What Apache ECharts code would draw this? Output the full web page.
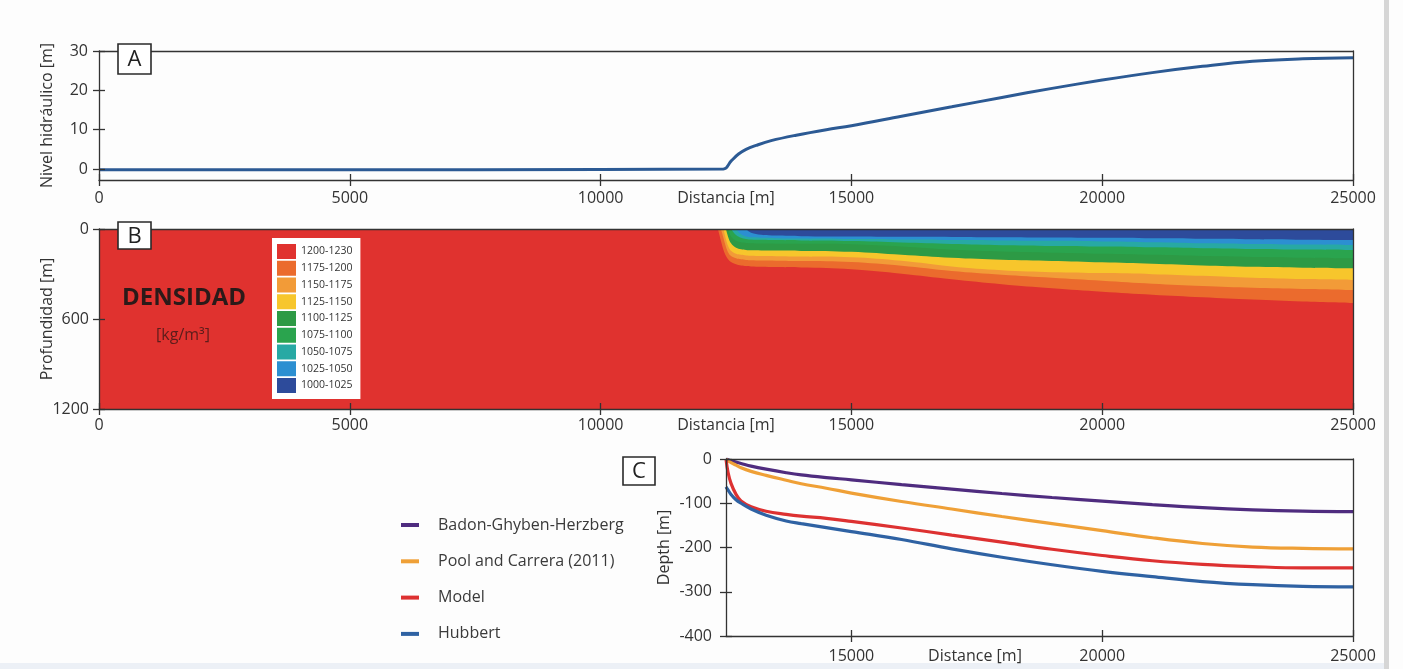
<!DOCTYPE html>
<html><head><meta charset="utf-8">
<script src="https://cdn.jsdelivr.net/npm/echarts@6/dist/echarts.min.js"></script>
<style>html,body{margin:0;padding:0;background:#fdfdfd;}#c{width:1403px;height:669px;}</style>
</head><body><div id="c"></div>
<script>
// ---------- Panel A: hydraulic head ----------
const aX    = [0, 5000, 10000, 12450, 12600, 12750, 12900, 13100, 13400, 13900, 14500, 15000, 16000, 17000, 18000, 19000, 20000, 21000, 22000, 23000, 24000, 25000];
const aHead = [-0.2, -0.2, -0.1, 0, 2.0, 3.8, 5.0, 6.0, 7.2, 8.6, 10.0, 11.0, 13.4, 15.8, 18.2, 20.5, 22.6, 24.5, 26.1, 27.4, 28.0, 28.3];
const aXTicks = [0, 5000, 10000, 15000, 20000, 25000];
const aYTicks = [0, 10, 20, 30];

// ---------- Panel B: density bands (bottom depth of each band, m) ----------
const bX      = [12340, 12400, 12450, 12500, 12550, 12600, 12700, 12800, 12900, 13000, 13200, 13500, 14000, 15000, 16000, 17000, 18000, 19000, 20000, 21000, 22000, 23000, 24000, 25000];
const b1175 = [0, 80, 140, 180, 205, 220, 235, 243, 247, 250, 252, 254, 257, 268, 298, 335, 368, 395, 418, 438, 455, 470, 483, 493];
const b1150 = [null, 0, 60, 120, 160, 180, 195, 202, 206, 208, 210, 211, 213, 220, 245, 280, 305, 325, 345, 365, 380, 392, 400, 407];
const b1125 = [null, null, 0, 70, 120, 145, 165, 172, 176, 178, 180, 181, 183, 188, 212, 250, 275, 288, 294, 301, 312, 325, 334, 340];
const b1100 = [null, null, null, 0, 60, 95, 125, 135, 140, 142, 143, 144, 146, 152, 172, 192, 205, 213, 222, 232, 243, 252, 258, 262];
const b1075 = [null, null, null, null, 0, 50, 78, 88, 93, 95, 97, 98, 99, 102, 117, 138, 150, 158, 165, 172, 180, 186, 191, 195];
const b1050 = [null, null, null, null, null, 0, 40, 58, 66, 70, 72, 74, 76, 80, 90, 100, 108, 113, 117, 122, 128, 133, 137, 140];
const b1025 = [null, null, null, null, null, null, 0, 35, 50, 55, 58, 61, 64, 67, 70, 73, 76, 79, 83, 88, 95, 100, 104, 107];
const b1000 = [null, null, null, null, null, null, null, null, 0, 25, 38, 44, 48, 50, 52, 53, 55, 57, 59, 62, 65, 68, 71, 73];
const bClasses = ['1200-1230', '1175-1200', '1150-1175', '1125-1150', '1100-1125', '1075-1100', '1050-1075', '1025-1050', '1000-1025'];
const bYTicks = [0, 600, 1200];

// ---------- Panel C: interface depth ----------
const cX       = [12500, 12540, 12600, 12700, 12800, 13000, 13300, 13700, 14000, 14500, 15000, 16000, 17000, 18000, 19000, 20000, 21000, 22000, 23000, 24000, 25000];
const cBGH     = [0, -1.5, -4, -7, -10, -16, -23, -31, -36, -42, -47, -58, -68, -78, -87, -95, -103, -110, -115, -118, -119];
const cPool    = [0, -4, -8, -14, -20, -28, -37, -48, -56, -66, -77, -96, -113, -130, -146, -162, -178, -191, -199, -202, -203];
const cModel   = [0, -30, -55, -80, -95, -108, -118, -125, -129, -134, -141, -156, -172, -188, -204, -218, -230, -238, -243, -246, -246];
const cHubbert = [-63, -70, -80, -92, -100, -113, -127, -140, -146, -155, -164, -182, -203, -222, -239, -254, -266, -277, -284, -288, -289];
const cNames   = ['Badon-Ghyben-Herzberg', 'Pool and Carrera (2011)', 'Model', 'Hubbert'];
const cXTicks  = [15000, 20000, 25000];

// ---------- styling ----------
const FF = "'Open Sans', sans-serif";
const LC = '#333';
const TC = '#333';
const bColors = ['#e0322f', '#eb6b2d', '#f29b38', '#f7c62c', '#2d9a45', '#2aa44e', '#27a9a4', '#2c8fd1', '#2d4b9b'];
const cColors = ['#4f2c7f', '#efa037', '#dd3131', '#2f62a3'];

const panels = [
  {grid: {left: 99, top: 51, width: 1254, height: 129},
   x: {min: 0, max: 25000, interval: 5000, ticks: aXTicks, margin: 10, name: 'Distancia [m]', nameGap: 10},
   y: {min: -2.8, max: 30, ticks: aYTicks, margin: 11, name: 'Nivel hidráulico [m]', nameGap: 44}},
  {grid: {left: 99, top: 229, width: 1254, height: 180},
   x: {min: 0, max: 25000, interval: 5000, ticks: aXTicks, margin: 8, name: 'Distancia [m]', nameGap: 8},
   y: {min: 0, max: 1200, interval: 600, ticks: bYTicks, margin: 10, inverse: true, name: 'Profundidad [m]', nameGap: 44}},
  {grid: {left: 726, top: 459, width: 627, height: 177},
   x: {min: 12500, max: 25000, ticks: cXTicks, margin: 12, name: 'Distance [m]', nameGap: 12, namePad: [0, 129, 0, 0]},
   y: {min: -400, max: 0, interval: 100, margin: 14, name: 'Depth [m]', nameGap: 54}}
];

const grids = [], xAxes = [], yAxes = [];
const lineS = {color: LC, width: 1.3};
const fmt = (v) => String(v);
const nameStyle = (pad) => ({fontSize: 16, color: TC, fontFamily: FF, padding: pad || 0});
panels.forEach((p, i) => {
  const g = Object.assign({outerBoundsMode: 'none', containLabel: false}, p.grid);
  grids.push(Object.assign({}, g));
  grids.push(Object.assign({}, g));
  const gx = {type: 'value', min: p.x.min, max: p.x.max, splitLine: {show: false}, z: 11};
  if (p.x.interval) gx.interval = p.x.interval;
  const gy = {type: 'value', min: p.y.min, max: p.y.max, splitLine: {show: false}, z: 11, inverse: !!p.y.inverse};
  if (p.y.interval) gy.interval = p.y.interval;
  xAxes.push(Object.assign({}, gx, {gridIndex: 2 * i, position: 'bottom',
    axisLine: {show: true, onZero: false, lineStyle: lineS},
    axisTick: {show: true, length: 6, lineStyle: lineS, customValues: p.x.ticks},
    axisLabel: {show: true, margin: p.x.margin, fontSize: 16, color: TC, fontFamily: FF, customValues: p.x.ticks, formatter: fmt},
    name: p.x.name, nameLocation: 'middle', nameGap: p.x.nameGap, nameMoveOverlap: false, nameTextStyle: nameStyle(p.x.namePad)}));
  xAxes.push(Object.assign({}, gx, {gridIndex: 2 * i, position: 'top',
    axisLine: {show: true, onZero: false, lineStyle: lineS}, axisTick: {show: false}, axisLabel: {show: false}}));
  xAxes.push(Object.assign({}, gx, {gridIndex: 2 * i + 1, position: 'bottom',
    axisLine: {show: false, onZero: false}, axisTick: {show: true, inside: true, length: 6, lineStyle: lineS, customValues: p.x.ticks},
    axisLabel: {show: false}}));
  yAxes.push(Object.assign({}, gy, {gridIndex: 2 * i, position: 'left',
    axisLine: {show: true, onZero: false, lineStyle: lineS},
    axisTick: {show: true, length: 6, lineStyle: lineS, customValues: p.y.ticks},
    axisLabel: {show: true, margin: p.y.margin, fontSize: 16, color: TC, fontFamily: FF, customValues: p.y.ticks, formatter: fmt},
    name: p.y.name, nameLocation: 'middle', nameGap: p.y.nameGap, nameRotate: 90, nameMoveOverlap: false, nameTextStyle: nameStyle()}));
  yAxes.push(Object.assign({}, gy, {gridIndex: 2 * i, position: 'right',
    axisLine: {show: true, onZero: false, lineStyle: lineS}, axisTick: {show: false}, axisLabel: {show: false}}));
  yAxes.push(Object.assign({}, gy, {gridIndex: 2 * i + 1, position: 'left',
    axisLine: {show: false, onZero: false}, axisTick: {show: true, inside: true, length: 6, lineStyle: lineS, customValues: p.y.ticks},
    axisLabel: {show: false}}));
});

const pairs = (xs, ys) => xs.map((x, i) => [x, ys[i]]).filter(d => d[1] != null);

const series = [];
// Panel A
series.push({type: 'line', name: 'head', xAxisIndex: 0, yAxisIndex: 0, data: pairs(aX, aHead),
  showSymbol: false, smooth: 0.4, lineStyle: {color: '#2c5a94', width: 3}, silent: true});
// Panel B
const bBands = [null, b1175, b1150, b1125, b1100, b1075, b1050, b1025, b1000];
bClasses.forEach((name, k) => {
  const data = k === 0 ? [[0, 1200], [25000, 1200]] : pairs(bX, bBands[k]);
  series.push({type: 'line', name: name, xAxisIndex: 3, yAxisIndex: 3, data: data, color: bColors[k],
    showSymbol: false, smooth: k === 0 ? false : 0.4,
    lineStyle: {width: 0, color: bColors[k]}, areaStyle: {color: bColors[k], opacity: 1}, silent: true});
});
// Panel C
[cBGH, cPool, cModel, cHubbert].forEach((arr, k) => {
  series.push({type: 'line', name: cNames[k], xAxisIndex: 6, yAxisIndex: 6, data: pairs(cX, arr), color: cColors[k],
    showSymbol: false, smooth: 0.4, lineStyle: {width: 3.2, color: cColors[k]}, silent: true});
});

function letterBox(x, y, w, h, t) {
  return {type: 'group', z: 100, children: [
    {type: 'rect', shape: {x: x, y: y, width: w, height: h}, style: {fill: '#fff', stroke: '#2a2a2a', lineWidth: 1.6}, z: 100},
    {type: 'text', x: x + w / 2, y: y + h / 2 + 1, z: 101, style: {text: t, fontSize: 22, fontFamily: FF, fill: '#222', align: 'center', verticalAlign: 'middle'}}
  ]};
}

const option = {
  backgroundColor: '#fdfdfd',
  animation: false,
  grid: grids,
  xAxis: xAxes,
  yAxis: yAxes,
  legend: [
    {data: bClasses, left: 272, top: 238, orient: 'vertical', icon: 'rect', itemWidth: 19, itemHeight: 15, itemGap: 1.75,
     backgroundColor: '#fff', padding: [6, 8, 6, 5], selectedMode: false, itemStyle: {borderWidth: 0},
     textStyle: {fontSize: 10.5, color: TC, fontFamily: FF}},
    {data: cNames, left: 401, top: 517, orient: 'vertical', icon: 'rect', itemWidth: 18, itemHeight: 4, itemGap: 20.3,
     padding: 0, selectedMode: false, itemStyle: {borderWidth: 0},
     textStyle: {fontSize: 16, color: '#3a3a3a', fontFamily: FF, padding: [0, 0, 0, 14]}}
  ],
  graphic: [
    {type: 'rect', z: 0, silent: true, shape: {x: 1384, y: 0, width: 5, height: 669}, style: {fill: '#d6d6d6'}},
    {type: 'rect', z: 0, silent: true, shape: {x: 0, y: 663, width: 1384, height: 6}, style: {fill: '#ecf0f6'}},
    letterBox(118, 44, 33, 30, 'A'),
    letterBox(118, 222, 33, 27, 'B'),
    letterBox(623, 457, 32, 28, 'C'),
    {type: 'text', x: 184, y: 298, z: 100, style: {text: 'DENSIDAD', fontSize: 24, fontWeight: 'bold', fontFamily: FF, fill: '#2b1a19', align: 'center', verticalAlign: 'middle'}},
    {type: 'text', x: 183, y: 335, z: 100, style: {text: '[kg/m³]', fontSize: 16, fontFamily: FF, fill: '#5c1d1b', align: 'center', verticalAlign: 'middle'}}
  ],
  series: series
};

const chart = echarts.init(document.getElementById('c'));
chart.setOption(option);
</script>
</body></html>
